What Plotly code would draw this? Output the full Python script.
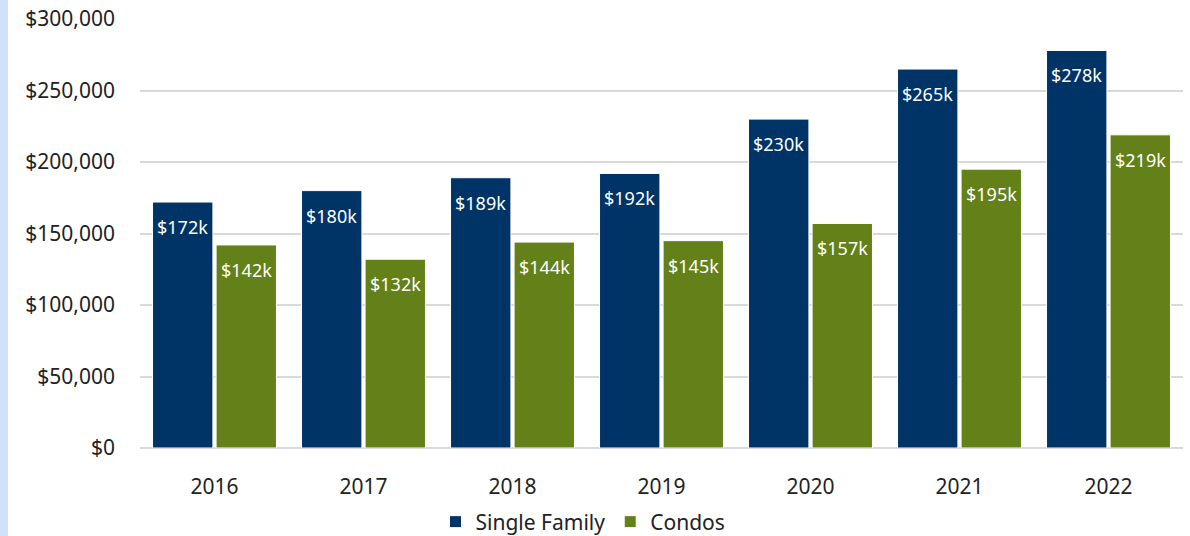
import plotly.graph_objects as go

years = ["2016", "2017", "2018", "2019", "2020", "2021", "2022"]
single_family = [172000, 180000, 189000, 192000, 230000, 265000, 278000]
condos = [142000, 132000, 144000, 145000, 157000, 195000, 219000]
sf_labels = ["$172k", "$180k", "$189k", "$192k", "$230k", "$265k", "$278k"]
condo_labels = ["$142k", "$132k", "$144k", "$145k", "$157k", "$195k", "$219k"]
y_ticks = [0, 50000, 100000, 150000, 200000, 250000, 300000]
y_tick_text = ["$0", "$50,000", "$100,000", "$150,000", "$200,000", "$250,000", "$300,000"]

FONT = "Noto Sans"
BLUE = "#003366"
GREEN = "#638019"
TXT = "#222222"

W, H = 1190, 536
L, R, T, B = 140, 7, 19, 88
pw = W - L - R
ph = H - T - B
BARGAP = 0.147
slot = pw / len(years) * (1 - BARGAP) / 2
offset = slot / 2

fig = go.Figure()
fig.add_trace(go.Bar(
    x=years, y=single_family, name="Single Family",
    marker=dict(color=BLUE, line=dict(color="white", width=1)),
))
fig.add_trace(go.Bar(
    x=years, y=condos, name="Condos",
    marker=dict(color=GREEN, line=dict(color="white", width=1)),
))

# data labels: placed at each category index (category axis positions)
annotations = []
for i, (v, t) in enumerate(zip(single_family, sf_labels)):
    annotations.append(dict(x=i, y=v, text=t, xref="x", yref="y", showarrow=False,
                            xshift=-offset, yshift=-25, yanchor="middle",
                            font=dict(color="white", size=18, family=FONT)))
for i, (v, t) in enumerate(zip(condos, condo_labels)):
    annotations.append(dict(x=i, y=v, text=t, xref="x", yref="y", showarrow=False,
                            xshift=offset, yshift=-25, yanchor="middle",
                            font=dict(color="white", size=18, family=FONT)))

fig.update_layout(
    width=W, height=H,
    margin=dict(l=L, r=R, t=T, b=B, pad=0),
    barmode="group", bargap=BARGAP, bargroupgap=0.05,
    paper_bgcolor="white", plot_bgcolor="white",
    font=dict(family=FONT, size=21, color=TXT),
    xaxis=dict(type="category", categoryorder="array", categoryarray=years,
               range=[-0.5, len(years) - 0.5],
               showgrid=False, showline=False, ticks="", tickfont=dict(size=21, color=TXT),
               ticklabelstandoff=24, automargin=False),
    yaxis=dict(range=[0, 300000], tickvals=y_ticks, ticktext=y_tick_text,
               showgrid=True, gridcolor="#d9d9d9", gridwidth=2, zeroline=True,
               zerolinecolor="#d9d9d9", zerolinewidth=2, ticks="",
               tickfont=dict(size=21, color=TXT), ticklabelstandoff=24, automargin=False),
    legend=dict(orientation="h", xref="container", yref="container",
                x=583 / W, xanchor="center", y=1 - 522 / H, yanchor="middle",
                font=dict(size=21, color=TXT), itemwidth=30, traceorder="normal"),
    annotations=annotations,
    shapes=[dict(type="rect", xref="paper", yref="paper",
                 x0=-L / pw, x1=(8 - L) / pw, y0=-B / ph, y1=1 + T / ph,
                 fillcolor="#d0e1fb", line=dict(width=0), layer="below")],
)

fig.write_html("out.html")
